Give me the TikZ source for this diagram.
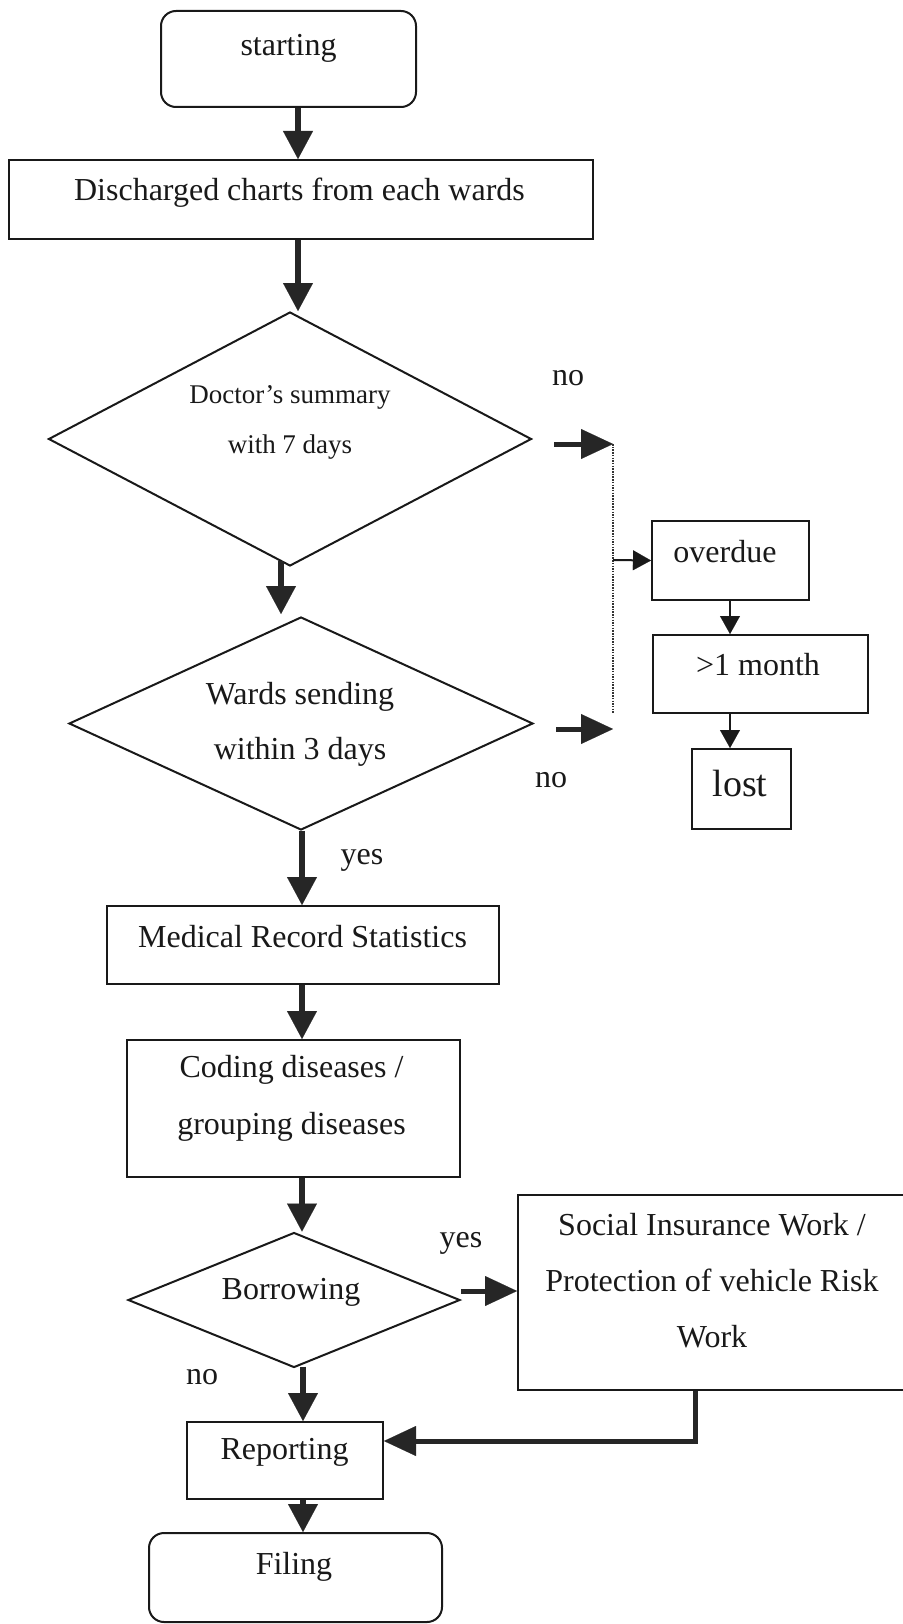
\documentclass[tikz,border=0pt]{standalone}
\usepackage{fontspec}
\setmainfont{Liberation Serif}
\usetikzlibrary{arrows.meta,shapes.geometric,calc}
\begin{document}
\begin{tikzpicture}[x=1pt,y=-1pt,
  box/.style={draw=black!90, line width=2pt, rectangle, inner sep=0pt},
  rbox/.style={box, rounded corners=15pt},
  dia/.style={draw=black!90, line width=2pt, diamond, inner sep=0pt},
  txt/.style={font=\fontsize{32}{56}\selectfont, align=center, inner sep=0pt, text=black!90},
  big/.style={draw=black!85, line width=6pt, -{Triangle[length=28pt,width=30pt,line width=0.1pt]}},
  side/.style={draw=black!85, line width=5pt, -{Triangle[length=32pt,width=30pt,line width=0.1pt]}},
  thin/.style={draw=black!90, line width=2pt, -{Triangle[length=18pt,width=20pt,line width=0.1pt]}},
  dotline/.style={draw=black!80, line width=1.5pt, dash pattern=on 1.5pt off 1.2pt},
]
\useasboundingbox (0,0) rectangle (902,1624);
\fill[white] (0,0) rectangle (902,1624);

% main column
\node[rbox, minimum width=255pt, minimum height=96pt] (start) at (288.5,59) {};
\node[txt] (tstart) at (288.5,48) {starting};

\node[box, minimum width=584pt, minimum height=79pt] (disch) at (301,199.5) {};
\node[txt] (tdisch) at (299.5,193) {Discharged charts from each wards};

\node[dia, minimum width=483pt, minimum height=254pt] (doc) at (290,439) {};
\node[txt, font=\fontsize{27}{50}\selectfont] (tdoc) at (290,422) {Doctor’s summary\\with 7 days};

\node[dia, minimum width=464pt, minimum height=213pt] (ward) at (301,723.5) {};
\node[txt, font=\fontsize{32}{55}\selectfont] (tward) at (300,724.5) {Wards sending\\within 3 days};

\node[box, minimum width=392pt, minimum height=78pt] (med) at (303,945) {};
\node[txt] (tmed) at (302.5,937) {Medical Record Statistics};

\node[box, minimum width=333pt, minimum height=137pt] (cod) at (293.5,1108.5) {};
\node[txt, font=\fontsize{32}{57}\selectfont] (tcod) at (291.5,1098.5) {Coding diseases /\\grouping diseases};

\node[dia, minimum width=332pt, minimum height=135pt] (bor) at (294,1300) {};
\node[txt] (tbor) at (291,1292) {Borrowing};

\node[box, minimum width=397pt, minimum height=195pt] (soc) at (716.5,1292.5) {};
\node[txt] (tsoc) at (712,1281) {Social Insurance Work /\\Protection of vehicle Risk\\Work};

\node[box, minimum width=196pt, minimum height=77pt] (rep) at (285,1460.5) {};
\node[txt] (trep) at (284.5,1452) {Reporting};

\node[rbox, minimum width=293pt, minimum height=89pt] (fil) at (295.5,1577.5) {};
\node[txt] (tfil) at (294,1567) {Filing};

% right column
\node[box, minimum width=157pt, minimum height=79pt] (over) at (730.5,560.5) {};
\node[txt] (tover) at (725,552) {overdue};

\node[box, minimum width=215pt, minimum height=78pt] (month) at (760.5,674) {};
\node[txt] (tmonth) at (758,665) {>1 month};

\node[box, minimum width=99pt, minimum height=80pt] (lost) at (741.5,789) {};
\node[txt, font=\fontsize{38}{45}\selectfont] (tlost) at (740,783) {lost};

% labels
\node[txt] (no1) at (568,378) {no};
\node[txt] (no2) at (551,780) {no};
\node[txt] (yes1) at (362,860) {yes};
\node[txt] (yes2) at (461,1243) {yes};
\node[txt] (no3) at (202,1377) {no};

% coordinates on the dotted collector
\coordinate (dtop) at (613,444);
\coordinate (dmid) at (613,560);
\coordinate (dbot) at (613,729);
\coordinate (dend) at (613,713);

% main connectors
\draw[big] ($(start.south)+(9.5,0)$) -- ($(disch.north)+(-3,0)$);
\draw[big] ($(disch.south)+(-3,0)$) -- ($(doc.north)+(8,0)$);
\draw[big] ($(doc.south)+(-9,-6)$) -- ($(ward.north)+(-20,-2)$);
\draw[big] ($(ward.south)+(1,0)$) -- ($(med.north)+(-1,0)$);
\draw[big] ($(med.south)+(-1,0)$) -- ($(cod.north)+(8.5,0)$);
\draw[big] ($(cod.south)+(8.5,0)$) -- ($(bor.north)+(8,0)$);
\draw[big] ($(bor.south)+(9,-2)$) -- ($(rep.north)+(18,0)$);
\draw[big] ($(rep.south)+(18,0)$) -- ($(fil.north)+(7.5,0)$);
\draw[side] ($(bor.east)+(0,-9)$) -- ($(soc.west)+(0,-1.5)$);
\draw[side, line join=miter] ($(soc.south)+(-21.5,0)$) |- ($(rep.east)+(0,-19.5)$);

% side connectors
\draw[side] ($(doc.east)+(21.5,5)$) -- (dtop);
\draw[side] ($(ward.east)+(22,5.5)$) -- (dbot);
\draw[dotline] (dtop) -- (dend);
\draw[thin] (dmid) -- (over.west);
\draw[thin] ($(over.south)+(-0.5,0)$) -- ($(month.north)+(-30.5,0)$);
\draw[thin] ($(month.south)+(-30.5,0)$) -- ($(lost.north)+(-11.5,0)$);
\end{tikzpicture}
\end{document}
